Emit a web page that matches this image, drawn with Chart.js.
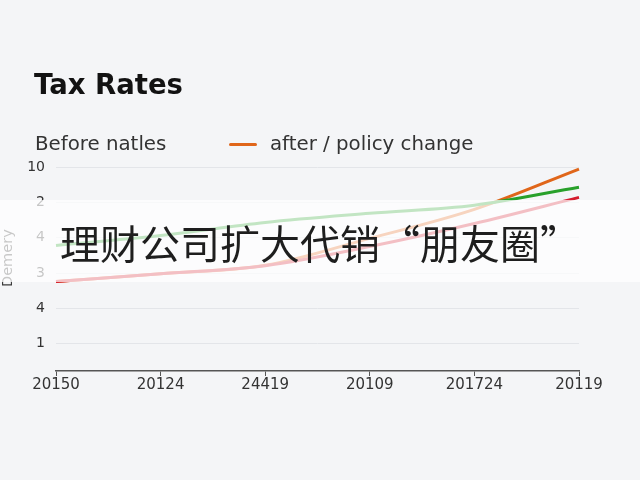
<!DOCTYPE html>
<html lang="en">
<head>
  <meta charset="UTF-8" />
  <title>Tax Rates</title>
  <script src="https://cdn.jsdelivr.net/npm/chart.js"></script>
  <style>
    html, body { margin:0; padding:0; background:#f4f5f7; }
    #wrap { position:relative; width:640px; height:480px; overflow:hidden; font-family:"DejaVu Sans", sans-serif; }
    #chart { position:absolute; left:0; top:0; }
    #title { position:absolute; left:34px; top:68px; margin:0; font-size:27.5px; font-weight:700; color:#121212; white-space:nowrap; }
    .lg { position:absolute; top:132px; font-size:19.8px; color:#333; white-space:nowrap; }
    .sw { position:absolute; left:229px; top:143px; width:28px; height:3px; border-radius:2px; background:#e0661a; }
    #banner { position:absolute; left:0; top:200px; width:640px; height:82px; background:rgba(255,255,255,0.72); }
    #banner span { position:absolute; left:60px; top:19px; font-family:"Noto Sans CJK SC", sans-serif; font-size:40px; line-height:46px; color:#1e1e1e; white-space:nowrap; }
  </style>
</head>
<body>
<div id="wrap">
  <canvas id="chart" width="640" height="480"></canvas>
  <h1 id="title">Tax Rates</h1>
  <div class="lg" id="lg0" style="left:35px"></div>
  <div class="sw"></div>
  <div class="lg" id="lg1" style="left:270px"></div>
  <div id="banner"><span>理财公司扩大代销“朋友圈”</span></div>
</div>

<script>
// data -------------------------------------------------------
const years      = ['20150', '20124', '24419', '20109', '201724', '20119'];
const yTickText  = ['1', '4', '3', '4', '2', '10'];     // labels for gridlines 1..6
const greenVals  = [3.78, 4.06, 4.43, 4.69, 4.92, 5.43];
const redVals    = [2.76, 2.98, 3.21, 3.75, 4.40, 5.14];
const orangeVals = [2.76, 2.98, 3.22, 3.98, 4.80, 5.94];
const legendText = ['Before natles', 'after / policy change'];
const yTitle     = 'Demery';

document.getElementById('lg0').textContent = legendText[0];
document.getElementById('lg1').textContent = legendText[1];

const line = (label, data, color) => ({
  label, data, borderColor: color, backgroundColor: color,
  borderWidth: 3, pointRadius: 0, tension: 0.4, cubicInterpolationMode: 'monotone', fill: false
});

new Chart(document.getElementById('chart'), {
  type: 'line',
  data: {
    labels: years,
    datasets: [
      line('green', greenVals, '#27a02a'),
      line(legendText[0], redVals, '#d41c2e'),
      line(legendText[1], orangeVals, '#e0661a')
    ]
  },
  options: {
    responsive: false,
    animation: false,
    layout: { padding: { left: 0, top: 167, right: 61, bottom: 79 } },
    plugins: { legend: { display: false }, title: { display: false }, tooltip: { enabled: false } },
    scales: {
      x: {
        type: 'category',
        offset: false,
        afterFit: s => { s.height = 30; },
        grid: { drawOnChartArea: false, drawTicks: true, tickLength: 5, color: '#555' },
        border: { color: '#555', width: 1.5 },
        ticks: { color: '#333', padding: 0, maxRotation: 0, font: { family: 'DejaVu Sans', size: 15 } }
      },
      y: {
        min: 0.23, max: 6,
        afterFit: s => { s.width = 56; },
        afterBuildTicks: s => { s.ticks = [1, 2, 3, 4, 5, 6].map(v => ({ value: v })); },
        grid: { color: '#e3e5e9', drawTicks: false },
        border: { display: false },
        ticks: { color: '#333', padding: 11, font: { family: 'DejaVu Sans', size: 14 },
                 callback: v => yTickText[v - 1] },
        title: { display: true, text: '\u2002\u2002\u2002' + yTitle, color: '#3a3a3a', padding: 0,
                 font: { family: 'DejaVu Sans', size: 14.5 } }
      }
    }
  }
});
</script>
</body>
</html>
